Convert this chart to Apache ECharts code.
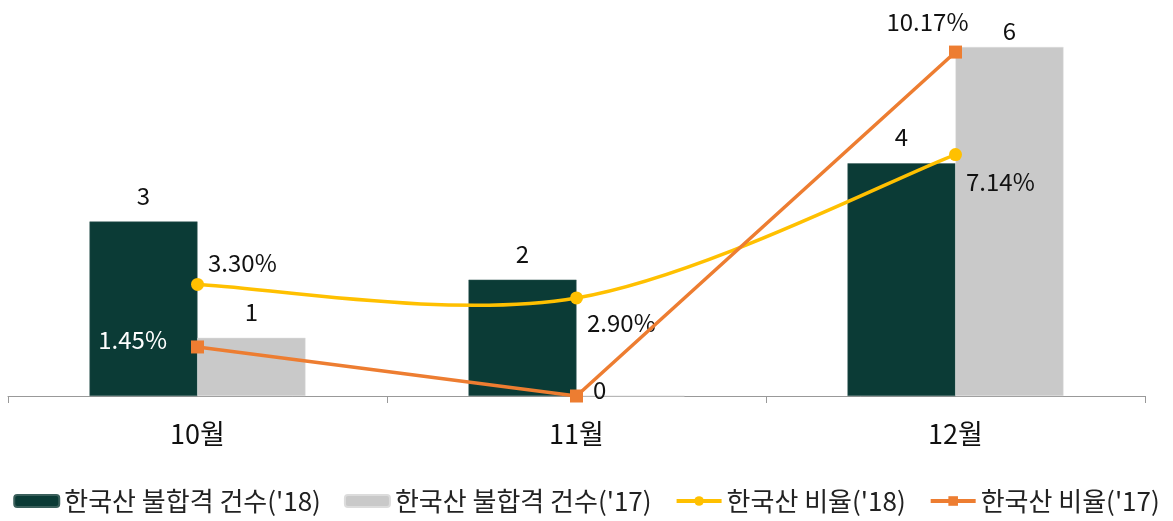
<!DOCTYPE html>
<html>
<head>
<meta charset="utf-8">
<script src="https://cdn.jsdelivr.net/npm/echarts@6/dist/echarts.min.js"></script>
<style>
  html, body { margin: 0; padding: 0; background: #fff; }
  #main { width: 1173px; height: 521px; }
</style>
</head>
<body>
<div id="main"></div>
<script>
var months = ['10월', '11월', '12월'];
var count18 = [3, 2, 4];
var count17 = [1, 0, 6];
var rate18 = [3.30, 2.90, 7.14];
var rate17 = [1.45, 0, 10.17];

var FONT = '"Noto Sans CJK KR", "Noto Sans", sans-serif';

var chart = echarts.init(document.getElementById('main'));

// label placement for each line point
var rate18Labels = [
    { position: 'right', distance: 4, offset: [0, -22] },
    { position: 'right', distance: 4, offset: [0, 25] },
    { position: 'right', distance: 4, offset: [0, 27] }
];
var rate17Labels = [
    { position: 'left', distance: 24, offset: [0, -7], color: '#fff' },
    { position: 'right', distance: 10, offset: [0, -6], formatter: '0' },
    { position: 'top', distance: 12, offset: [-28, 0] }
];

function barItems(arr) {
    return arr.map(function (v) {
        var lbl = { distance: 14 };
        if (v === 0) lbl.show = false;
        if (v === 6) lbl.distance = 4;
        return { value: v, label: lbl };
    });
}

// excel-like smoothed curve (bezier, tangent = (next - prev) / 6)
function smoothPath(params, api) {
    if (params.dataIndex !== 0) return;
    var pts = rate18.map(function (v, i) { return api.coord([i, v]); });
    var d = 'M' + pts[0][0] + ' ' + pts[0][1];
    for (var i = 0; i < pts.length - 1; i++) {
        var p0 = pts[i - 1] || pts[i];
        var p1 = pts[i];
        var p2 = pts[i + 1];
        var p3 = pts[i + 2] || pts[i + 1];
        var c1 = [p1[0] + (p2[0] - p0[0]) / 6, p1[1] + (p2[1] - p0[1]) / 6];
        var c2 = [p2[0] - (p3[0] - p1[0]) / 6, p2[1] - (p3[1] - p1[1]) / 6];
        d += ' C' + c1[0] + ' ' + c1[1] + ' ' + c2[0] + ' ' + c2[1] + ' ' + p2[0] + ' ' + p2[1];
    }
    return {
        type: 'path',
        shape: { pathData: d },
        style: { fill: 'none', stroke: '#ffc000', lineWidth: 3.5 }
    };
}

var option = {
    animation: false,
    textStyle: { fontFamily: FONT },
    grid: { left: 8, right: 28, top: 47, bottom: 125 },
    legend: {
        bottom: 2,
        left: 'center',
        itemWidth: 45,
        itemHeight: 12,
        itemGap: 23,
        textStyle: { fontSize: 26, color: '#222', fontFamily: FONT },
        data: [
            "한국산 불합격 건수('18)",
            "한국산 불합격 건수('17)",
            { name: "한국산 비율('18)", lineStyle: { color: '#ffc000', width: 4, opacity: 1 } },
            { name: "한국산 비율('17)", lineStyle: { color: '#ed7d31', width: 4, opacity: 1 } }
        ]
    },
    xAxis: {
        type: 'category',
        data: months,
        axisLine: { lineStyle: { color: '#999', width: 1 } },
        axisTick: { show: true, length: 7, lineStyle: { color: '#999' } },
        axisLabel: { fontSize: 27, color: '#111', margin: 24, fontFamily: FONT }
    },
    yAxis: [
        { type: 'value', min: 0, max: 6, show: false, splitLine: { show: false } },
        { type: 'value', min: 0, max: 10.32, show: false, splitLine: { show: false } }
    ],
    series: [
        {
            name: "한국산 불합격 건수('18)",
            type: 'bar',
            barWidth: 108,
            barGap: '0%',
            data: barItems(count18),
            itemStyle: { color: '#0b3b36', borderColor: '#3a5f5b', borderWidth: 0.5 },
            label: { show: true, position: 'top', fontSize: 24, color: '#111' }
        },
        {
            name: "한국산 불합격 건수('17)",
            type: 'bar',
            barWidth: 108,
            data: barItems(count17),
            itemStyle: { color: '#c9c9c9', borderColor: '#dcdcdc', borderWidth: 0.5 },
            label: { show: true, position: 'top', fontSize: 24, color: '#111' }
        },
        {
            type: 'custom',
            yAxisIndex: 1,
            renderItem: smoothPath,
            data: rate18,
            silent: true,
            z: 4
        },
        {
            name: "한국산 비율('18)",
            type: 'line',
            yAxisIndex: 1,
            symbol: 'circle',
            symbolSize: 13,
            data: rate18.map(function (v, i) {
                return { value: v, label: rate18Labels[i] };
            }),
            lineStyle: { color: '#ffc000', width: 3.5, opacity: 0 },
            itemStyle: { color: '#ffc000' },
            label: {
                show: true, fontSize: 24, color: '#111',
                formatter: function (p) { return p.value.toFixed(2) + '%'; }
            },
            z: 5
        },
        {
            name: "한국산 비율('17)",
            type: 'line',
            yAxisIndex: 1,
            symbol: 'rect',
            symbolSize: 13,
            data: rate17.map(function (v, i) {
                return { value: v, label: rate17Labels[i] };
            }),
            lineStyle: { color: '#ed7d31', width: 3.5 },
            itemStyle: { color: '#ed7d31' },
            label: {
                show: true, fontSize: 24, color: '#111',
                formatter: function (p) { return p.value.toFixed(2) + '%'; }
            },
            z: 6
        }
    ]
};

chart.setOption(option);
</script>
</body>
</html>
